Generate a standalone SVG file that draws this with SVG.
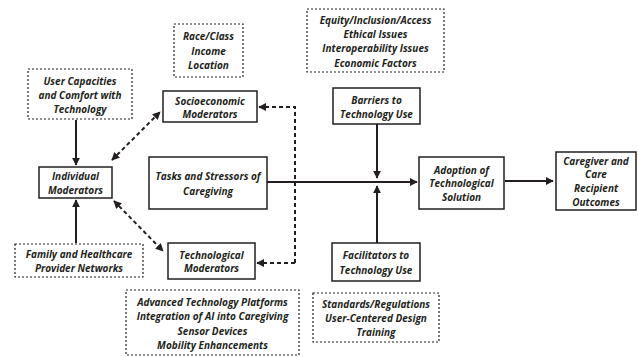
<svg xmlns="http://www.w3.org/2000/svg" width="638" height="357" viewBox="0 0 638 357">
  <style>
    .box { fill: #fff; stroke: #231f20; stroke-width: 1.5; }
    .note { fill: #fff; stroke: #231f20; stroke-width: 1.2; stroke-dasharray: 2 2; }
    text { font-family: "Open Sans", "Liberation Sans", sans-serif; font-weight: bold; font-style: italic; font-size: 10px; fill: #231f20; text-anchor: middle; dominant-baseline: central; }
    .solid { fill: none; stroke: #231f20; stroke-width: 2; }
    .dash { fill: none; stroke: #231f20; stroke-width: 2; stroke-dasharray: 4 3; }
  </style>
  <defs>
    <marker id="arrow" viewBox="0 0 10 10" refX="9" refY="5" markerWidth="4" markerHeight="4" orient="auto-start-reverse" markerUnits="strokeWidth">
      <path d="M0,0 L10,5 L0,10 z" fill="#231f20"/>
    </marker>
  </defs>

  <rect width="638" height="357" fill="#fff"/>

  <!-- connectors -->
  <g id="connectors">
    <line class="solid" x1="76" y1="120" x2="76" y2="165" marker-end="url(#arrow)"/>
    <line class="solid" x1="76" y1="243" x2="76" y2="200" marker-end="url(#arrow)"/>
    <line class="dash" x1="112" y1="160" x2="160" y2="112" marker-start="url(#arrow)" marker-end="url(#arrow)"/>
    <line class="dash" x1="114" y1="201" x2="163" y2="251" marker-start="url(#arrow)" marker-end="url(#arrow)"/>
    <polyline class="dash" points="295,263 295,107 259,107" marker-end="url(#arrow)"/>
    <line class="dash" x1="295" y1="263" x2="257" y2="263" marker-end="url(#arrow)"/>
    <line class="solid" x1="267" y1="182" x2="417" y2="182" marker-end="url(#arrow)"/>
    <line class="solid" x1="377" y1="124" x2="377" y2="178" marker-end="url(#arrow)"/>
    <line class="solid" x1="377" y1="243" x2="377" y2="186" marker-end="url(#arrow)"/>
    <line class="solid" x1="505" y1="181" x2="553" y2="181" marker-end="url(#arrow)"/>
  </g>

  <!-- context notes -->
  <g id="race-class">
    <rect class="note" x="174" y="24" width="69" height="53"/>
    <text x="208.5" y="36">Race/Class</text>
    <text x="208.5" y="51">Income</text>
    <text x="208.5" y="65">Location</text>
  </g>
  <g id="equity">
    <rect class="note" x="307" y="9" width="137" height="63"/>
    <text x="375.5" y="20">Equity/Inclusion/Access</text>
    <text x="375.5" y="34">Ethical Issues</text>
    <text x="375.5" y="48">Interoperability Issues</text>
    <text x="375.5" y="63">Economic Factors</text>
  </g>
  <g id="user-capacities">
    <rect class="note" x="28" y="69" width="104" height="50"/>
    <text x="80" y="81">User Capacities</text>
    <text x="80" y="95">and Comfort with</text>
    <text x="80" y="109">Technology</text>
  </g>
  <g id="family-networks">
    <rect class="note" x="15" y="244" width="128" height="33"/>
    <text x="79" y="254">Family and Healthcare</text>
    <text x="79" y="268">Provider Networks</text>
  </g>
  <g id="advanced-tech">
    <rect class="note" x="126" y="290" width="173" height="65"/>
    <text x="212.5" y="302">Advanced Technology Platforms</text>
    <text x="212.5" y="316">Integration of AI into Caregiving</text>
    <text x="212.5" y="331">Sensor Devices</text>
    <text x="212.5" y="345">Mobility Enhancements</text>
  </g>
  <g id="standards">
    <rect class="note" x="313" y="293" width="126" height="49"/>
    <text x="376" y="304">Standards/Regulations</text>
    <text x="376" y="318">User-Centered Design</text>
    <text x="376" y="332">Training</text>
  </g>

  <!-- main nodes -->
  <g id="individual-moderators">
    <rect class="box" x="39" y="167" width="73" height="31"/>
    <text x="75.5" y="176">Individual</text>
    <text x="75.5" y="190">Moderators</text>
  </g>
  <g id="socioeconomic-moderators">
    <rect class="box" x="163" y="91" width="94" height="31"/>
    <text x="210" y="101">Socioeconomic</text>
    <text x="210" y="114">Moderators</text>
  </g>
  <g id="tasks-stressors">
    <rect class="box" x="149" y="157" width="118" height="52"/>
    <text x="208" y="176">Tasks and Stressors of</text>
    <text x="208" y="191">Caregiving</text>
  </g>
  <g id="technological-moderators">
    <rect class="box" x="168" y="243" width="87" height="36"/>
    <text x="211.5" y="255">Technological</text>
    <text x="211.5" y="268">Moderators</text>
  </g>
  <g id="barriers">
    <rect class="box" x="333" y="88" width="87" height="36"/>
    <text x="376.5" y="100">Barriers to</text>
    <text x="376.5" y="114">Technology Use</text>
  </g>
  <g id="facilitators">
    <rect class="box" x="332" y="243" width="88" height="38"/>
    <text x="376" y="255">Facilitators to</text>
    <text x="376" y="270">Technology Use</text>
  </g>
  <g id="adoption">
    <rect class="box" x="419" y="157" width="85" height="52"/>
    <text x="461.5" y="170">Adoption of</text>
    <text x="461.5" y="183">Technological</text>
    <text x="461.5" y="197">Solution</text>
  </g>
  <g id="outcomes">
    <rect class="box" x="556" y="152" width="80" height="58"/>
    <text x="596" y="161">Caregiver and</text>
    <text x="596" y="174">Care</text>
    <text x="596" y="188">Recipient</text>
    <text x="596" y="202">Outcomes</text>
  </g>
</svg>
